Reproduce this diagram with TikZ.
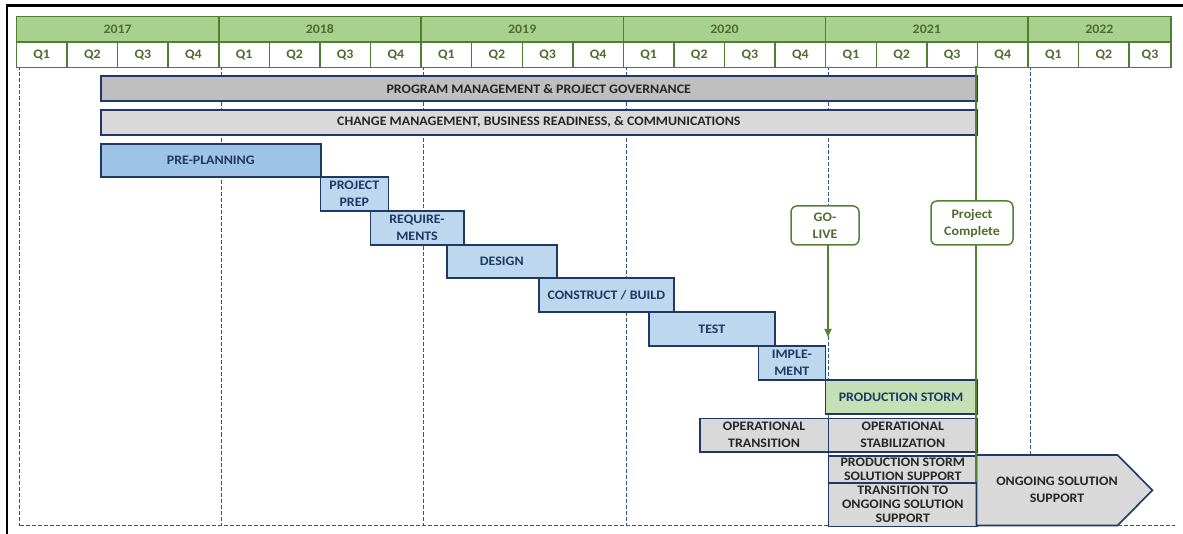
\documentclass[tikz,border=0pt]{standalone}
\usepackage{fontspec}
\setmainfont{Carlito}[FakeStretch=1.07]
\usetikzlibrary{arrows.meta}
\definecolor{hdrfill}{HTML}{A9D18E}
\definecolor{hdrline}{HTML}{507E32}
\definecolor{hdrtext}{HTML}{4F6B2F}
\definecolor{barline}{HTML}{1F3864}
\definecolor{dashblue}{HTML}{2F5597}
\definecolor{pmfill}{HTML}{BFBFBF}
\definecolor{grayfill}{HTML}{D9D9D9}
\definecolor{preplan}{HTML}{9DC3E6}
\definecolor{phase}{HTML}{BDD7EE}
\definecolor{psfill}{HTML}{C5E0B4}
\definecolor{navytext}{HTML}{1F3864}
\definecolor{darktext}{HTML}{262626}
\definecolor{msgreen}{HTML}{548235}
\begin{document}
\begin{tikzpicture}[x=1pt,y=-1pt,
  hdr/.style={draw=hdrline, line width=1.5pt, text=hdrtext, font=\bfseries\fontsize{13}{15}\selectfont, inner sep=0pt, anchor=north west, minimum height=25.5pt},
  bar/.style={draw=barline, line width=1.6pt, font=\bfseries\fontsize{13}{17}\selectfont, inner sep=0pt, anchor=north west, align=center},
  navybar/.style={bar, fill=phase, text=navytext},
  graybar/.style={bar, fill=grayfill, text=darktext},
  tightbar/.style={graybar, font=\bfseries\fontsize{13}{13.8}\selectfont},
  guide/.style={dashblue, line width=0.8pt, dash pattern=on 4pt off 2pt},
  milestone/.style={draw=msgreen, line width=1.5pt, rounded corners=6pt, fill=white, text=hdrtext, font=\bfseries\fontsize{13}{17}\selectfont, align=center, inner sep=0pt},
  msline/.style={msgreen, line width=1.6pt}
]
\useasboundingbox (0,0) rectangle (1183,534);
% frame
\draw[black, line width=2.2pt] (7,534) -- (7,5.5) -- (1183,5.5);
% guides
\foreach \gx [count=\gi] in {19.5,221,423.5,626,828,1030} {
  \coordinate (gt\gi) at (\gx,66.5);
  \coordinate (gb\gi) at (\gx,525.5);
  \draw[guide] (gt\gi) -- (gb\gi);
}
\coordinate (bl) at (19.5,525.5);
\coordinate (br) at (1175,525.5);
\draw[guide] (bl) -- (br);
% header
\foreach \i/\yr in {0/2017,1/2018,2/2019,3/2020,4/2021} {
  \node[hdr, fill=hdrfill, minimum width=202.3pt] (y\yr) at ({15.7+202.3*\i},15.7) {\yr};
}
\node[hdr, fill=hdrfill, minimum width=142.8pt] (y2022) at (1027.2,15.7) {2022};
\foreach \q in {0,...,21} {
  \pgfmathtruncatemacro\qn{mod(\q,4)+1}
  \node[hdr, fill=white, minimum width=50.58pt] (q\q) at ({15.7+50.58*\q},41.2) {Q\qn};
}
\node[hdr, fill=white, minimum width=41.5pt] (q22) at (1128.5,41.2) {Q3};
% bars
\node[bar, fill=pmfill, text=darktext, minimum width=876pt, minimum height=25pt] (pm) at (100,75.5) {PROGRAM MANAGEMENT \& PROJECT GOVERNANCE};
\node[bar, fill=grayfill, text=darktext, minimum width=876pt, minimum height=25pt] (cm) at (100,109) {CHANGE MANAGEMENT, BUSINESS READINESS, \& COMMUNICATIONS};
\node[bar, fill=preplan, text=navytext, minimum width=220pt, minimum height=33.5pt] (pre) at (100,143) {PRE-PLANNING};
\node[navybar, minimum width=68pt, minimum height=33.5pt] (prep) at (319.5,176.5) {PROJECT\\PREP};
\node[navybar, minimum width=93.5pt, minimum height=34pt] (req) at (369.5,210) {REQUIRE-\\MENTS};
\node[navybar, minimum width=110pt, minimum height=33.5pt] (des) at (446,244) {DESIGN};
\node[navybar, minimum width=135pt, minimum height=34pt] (con) at (538,277.5) {CONSTRUCT / BUILD};
\node[navybar, minimum width=126pt, minimum height=33.5pt] (test) at (648,311.5) {TEST};
\node[navybar, minimum width=67pt, minimum height=34.5pt] (impl) at (757.5,345) {IMPLE-\\MENT};
\node[bar, fill=psfill, text=navytext, minimum width=151.5pt, minimum height=33.5pt] (ps) at (824.5,379.5) {PRODUCTION STORM};
\node[graybar, minimum width=128.5pt, minimum height=33.5pt] (ot) at (699,417.5) {OPERATIONAL\\TRANSITION};
\node[graybar, minimum width=149pt, minimum height=33.5pt] (os) at (827.5,417.5) {OPERATIONAL\\STABILIZATION};
\node[tightbar, minimum width=149pt, minimum height=27pt] (pss) at (827.5,455) {PRODUCTION STORM\\SOLUTION SUPPORT};
\node[tightbar, minimum width=149pt, minimum height=43.5pt] (tos) at (827.5,482) {TRANSITION TO\\ONGOING SOLUTION\\SUPPORT};
% ongoing arrow
\draw[draw=barline, line width=1.6pt, fill=grayfill, line join=miter] (976.5,455) -- (1117.5,455) -- (1152.5,490.25) -- (1117.5,525.5) -- (976.5,525.5) -- cycle;
\node[font=\bfseries\fontsize{13}{17}\selectfont, text=darktext, align=center] (ong) at (1057,490) {ONGOING SOLUTION\\SUPPORT};
% milestones
\coordinate (pctop) at (975.7,66.5);
\coordinate (pcbot) at (975.7,482);
\draw[msline] (pctop) -- (pcbot);
\node[milestone, minimum width=82pt, minimum height=44pt] (pc) at (972,223) {Project\\Complete};
\node[milestone, minimum width=68pt, minimum height=39pt] (golive) at (825,225.5) {GO-\\LIVE};
\coordinate (glt) at (828,337);
\coordinate (gls) at (828,245);
\draw[msline, -{Triangle[width=7pt,length=8pt]}] (gls) -- (glt);
\end{tikzpicture}
\end{document}
